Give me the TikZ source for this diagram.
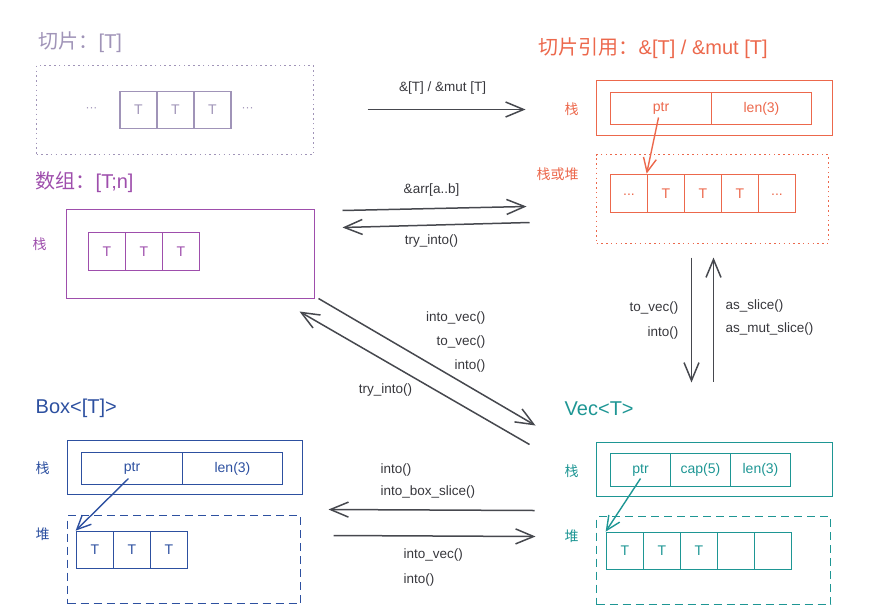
\documentclass[tikz,border=0pt]{standalone}
\usepackage{fontspec}
\setmainfont{Liberation Sans}
\newfontfamily\cjk{Noto Sans CJK SC}
\usetikzlibrary{arrows.meta}
\definecolor{slicecol}{RGB}{160,148,184}
\definecolor{arrcol}{RGB}{158,78,172}
\definecolor{refcol}{RGB}{236,104,76}
\definecolor{boxcol}{RGB}{45,80,160}
\definecolor{veccol}{RGB}{30,150,148}
\definecolor{conncol}{RGB}{70,72,78}
\definecolor{labelcol}{RGB}{55,55,60}
\begin{document}
\begin{tikzpicture}[x=1pt,y=-1pt,
  lbl/.style={font=\fontsize{13.5}{16}\selectfont, text=labelcol, inner sep=0},
  titletext/.style={font=\fontsize{20}{24}\selectfont, anchor=west, inner sep=0},
  cjklbl/.style={font=\cjk\fontsize{14}{16}\selectfont, inner sep=0},
  cell/.style={draw, line width=1.7pt, inner sep=0, font=\fontsize{14}{16}\selectfont, minimum height=37pt},
  outer/.style={draw, line width=1.7pt, inner sep=0},
  dotbox/.style={dash pattern=on 1.5pt off 3.3pt},
  dashbox/.style={dash pattern=on 8pt off 5pt},
  conn/.style={draw=conncol, line width=1.5pt, -{Straight Barb[length=18pt,width=15pt]}},
  ptrarr/.style={line width=1.4pt, -{Straight Barb[length=14pt,width=13pt]}}
]
\useasboundingbox (0,0) rectangle (882,613);
\begin{scope}[shift={(0.5,0.5)}]

% ---------------- slice [T]
\node[titletext, slicecol] (slicetitle) at (38,42) {{\cjk 切片：}[T]};
\node[outer, slicecol, dotbox, minimum width=277pt, minimum height=89pt] (slicebox) at (174.5,109.5) {};
\node[cell, slicecol, minimum width=37pt] (sc1) at (138,109.5) {T};
\node[cell, slicecol, minimum width=37pt] (sc2) at (175,109.5) {T};
\node[cell, slicecol, minimum width=37pt] (sc3) at (212,109.5) {T};
\node[slicecol, font=\fontsize{12}{14}\selectfont, inner sep=0] (sdl) at (91,109) {···};
\node[slicecol, font=\fontsize{12}{14}\selectfont, inner sep=0] (sdr) at (247,109) {···};

% ---------------- array [T;n]
\node[titletext, arrcol] (arrtitle) at (35,182) {{\cjk 数组：}[T;n]};
\node[outer, arrcol, minimum width=248pt, minimum height=89pt] (arrbox) at (190,253.5) {};
\node[cjklbl, arrcol] (arrstack) at (39,244) {栈};
\node[cell, arrcol, minimum width=37pt, minimum height=38pt] (ac1) at (106.5,251) {T};
\node[cell, arrcol, minimum width=37pt, minimum height=38pt] (ac2) at (143.5,251) {T};
\node[cell, arrcol, minimum width=37pt, minimum height=38pt] (ac3) at (180.5,251) {T};

% ---------------- slice reference
\node[titletext, refcol] (reftitle) at (538,48) {{\cjk 切片引用：}\&[T] / \&mut [T]};
\node[outer, refcol, minimum width=236pt, minimum height=55pt] (refstack) at (714,107.5) {};
\node[cjklbl, refcol] (refstacklbl) at (571,109) {栈};
\node[cell, refcol, minimum width=101pt, minimum height=32pt] (refptr) at (660.5,108) {ptr};
\node[cell, refcol, minimum width=100pt, minimum height=32pt] (reflen) at (761,108) {len(3)};
\node[outer, refcol, dotbox, minimum width=232pt, minimum height=89pt] (refheap) at (712,198.5) {};
\node[cjklbl, refcol] (refheaplbl) at (557,174) {栈或堆};
\node[cell, refcol, minimum width=37pt, minimum height=38pt] (rc1) at (628.5,193) {\raisebox{-3pt}{...}};
\node[cell, refcol, minimum width=37pt, minimum height=38pt] (rc2) at (665.5,193) {T};
\node[cell, refcol, minimum width=37pt, minimum height=38pt] (rc3) at (702.5,193) {T};
\node[cell, refcol, minimum width=37pt, minimum height=38pt] (rc4) at (739.5,193) {T};
\node[cell, refcol, minimum width=37pt, minimum height=38pt] (rc5) at (776.5,193) {\raisebox{-3pt}{...}};
\coordinate (refptrsrc) at (658,117);
\draw[ptrarr, refcol] (refptrsrc) -- (rc2.north west);

% ---------------- Box<[T]>
\node[titletext, boxcol] (boxtitle) at (35,408) {Box<[T]>};
\node[outer, boxcol, minimum width=235pt, minimum height=54pt] (boxstack) at (184.5,467) {};
\node[cjklbl, boxcol] (boxstacklbl) at (42,468) {栈};
\node[cell, boxcol, minimum width=101pt, minimum height=32pt] (boxptr) at (131.5,468) {ptr};
\node[cell, boxcol, minimum width=100pt, minimum height=32pt] (boxlen) at (232,468) {len(3)};
\node[outer, boxcol, dashbox, minimum width=233pt, minimum height=88pt] (boxheap) at (183.5,559) {};
\node[cjklbl, boxcol] (boxheaplbl) at (42,534) {堆};
\node[cell, boxcol, minimum width=37pt] (bc1) at (94.5,549.5) {T};
\node[cell, boxcol, minimum width=37pt] (bc2) at (131.5,549.5) {T};
\node[cell, boxcol, minimum width=37pt] (bc3) at (168.5,549.5) {T};
\coordinate (boxptrsrc) at (128,478);
\draw[ptrarr, boxcol] (boxptrsrc) -- (bc1.north west);

% ---------------- Vec<T>
\node[titletext, veccol] (vectitle) at (564,408) {Vec<T>};
\node[outer, veccol, minimum width=236pt, minimum height=54pt] (vecstack) at (714,469) {};
\node[cjklbl, veccol] (vecstacklbl) at (571,471) {栈};
\node[cell, veccol, minimum width=60pt, minimum height=33pt] (vecptr) at (640,469.5) {ptr};
\node[cell, veccol, minimum width=60pt, minimum height=33pt] (veccap) at (700,469.5) {cap(5)};
\node[cell, veccol, minimum width=60pt, minimum height=33pt] (veclen) at (760,469.5) {len(3)};
\node[outer, veccol, dashbox, minimum width=234pt, minimum height=88pt] (vecheap) at (713,560) {};
\node[cjklbl, veccol] (vecheaplbl) at (571,536) {堆};
\node[cell, veccol, minimum width=37pt] (vc1) at (624.5,550.5) {T};
\node[cell, veccol, minimum width=37pt] (vc2) at (661.5,550.5) {T};
\node[cell, veccol, minimum width=37pt] (vc3) at (698.5,550.5) {T};
\node[cell, veccol, minimum width=37pt] (vc4) at (735.5,550.5) {};
\node[cell, veccol, minimum width=37pt] (vc5) at (772.5,550.5) {};
\coordinate (vecptrsrc) at (640,478);
\draw[ptrarr, veccol] (vecptrsrc) -- (vc1.north west);

% ---------------- connectors
\coordinate (c1s) at (367,109);   \coordinate (c1e) at (525,109);
\draw[conn] (c1s) -- (c1e);
\node[lbl] (l1) at (442,88) {\&[T] / \&mut [T]};

\coordinate (c2s) at (342,210);   \coordinate (c2e) at (526,206);
\draw[conn] (c2s) -- (c2e);
\node[lbl] (l2) at (431,190) {\&arr[a..b]};

\coordinate (c3s) at (529,222);   \coordinate (c3e) at (342,227);
\draw[conn] (c3s) -- (c3e);
\node[lbl] (l3) at (431,241) {try\_into()};

\coordinate (c4s) at (691,257);   \coordinate (c4e) at (691,382);
\draw[conn] (c4s) -- (c4e);
\node[lbl, anchor=east] (l4a) at (678,308) {to\_vec()};
\node[lbl, anchor=east] (l4b) at (678,333) {into()};

\coordinate (c5s) at (713,381);   \coordinate (c5e) at (713,257);
\draw[conn] (c5s) -- (c5e);
\node[lbl, anchor=west] (l5a) at (725,306) {as\_slice()};
\node[lbl, anchor=west] (l5b) at (725,329) {as\_mut\_slice()};

\coordinate (c6s) at (318,298);   \coordinate (c6e) at (535,425);
\draw[conn] (c6s) -- (c6e);
\node[lbl, anchor=east] (l6a) at (485,318) {into\_vec()};
\node[lbl, anchor=east] (l6b) at (485,342) {to\_vec()};
\node[lbl, anchor=east] (l6c) at (485,365) {into()};

\coordinate (c7s) at (529,444);   \coordinate (c7e) at (299,311);
\draw[conn] (c7s) -- (c7e);
\node[lbl] (l7) at (385,390) {try\_into()};

\coordinate (c8s) at (534,510);   \coordinate (c8e) at (328,509);
\draw[conn] (c8s) -- (c8e);
\node[lbl, anchor=west] (l8a) at (380,469) {into()};
\node[lbl, anchor=west] (l8b) at (380,491) {into\_box\_slice()};

\coordinate (c9s) at (333,535);   \coordinate (c9e) at (535,536);
\draw[conn] (c9s) -- (c9e);
\node[lbl, anchor=west] (l9a) at (403,554) {into\_vec()};
\node[lbl, anchor=west] (l9b) at (403,579) {into()};
\end{scope}
\end{tikzpicture}
\end{document}
